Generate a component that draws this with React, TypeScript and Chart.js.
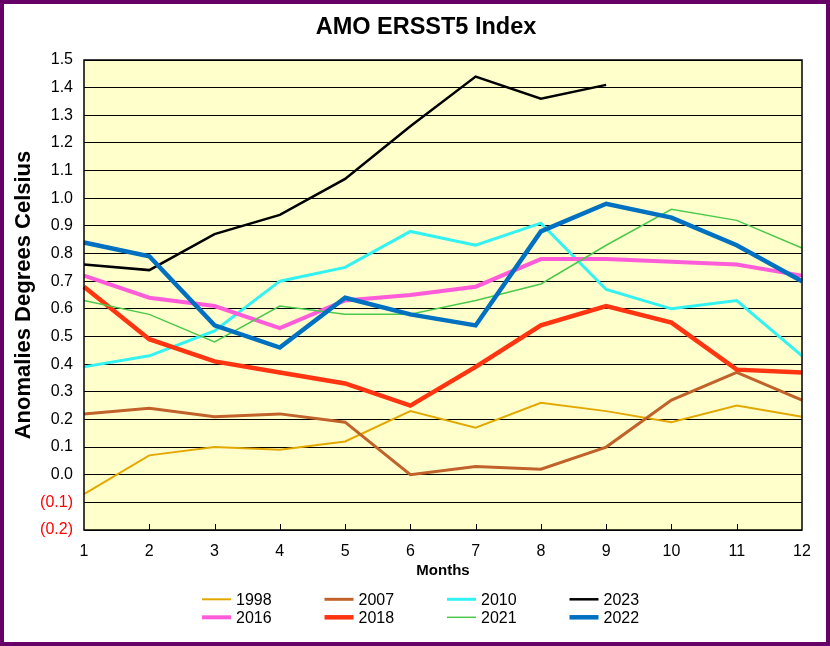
import React, { useEffect, useRef } from "react";
import { Chart, registerables } from "chart.js";

Chart.register(...registerables);

const months = ["1", "2", "3", "4", "5", "6", "7", "8", "9", "10", "11", "12"];

const seriesLabels = ["1998", "2007", "2010", "2023", "2016", "2018", "2021", "2022"];

const y1998 = [-0.07, 0.07, 0.1, 0.09, 0.12, 0.23, 0.17, 0.26, 0.23, 0.19, 0.25, 0.21];
const y2007 = [0.22, 0.24, 0.21, 0.22, 0.19, 0.0, 0.03, 0.02, 0.1, 0.27, 0.37, 0.27];
const y2010 = [0.39, 0.43, 0.52, 0.7, 0.75, 0.88, 0.83, 0.91, 0.67, 0.6, 0.63, 0.43];
const y2023 = [0.76, 0.74, 0.87, 0.94, 1.07, 1.26, 1.44, 1.36, 1.41];
const y2016 = [0.72, 0.64, 0.61, 0.53, 0.63, 0.65, 0.68, 0.78, 0.78, 0.77, 0.76, 0.72];
const y2018 = [0.68, 0.49, 0.41, 0.37, 0.33, 0.25, 0.39, 0.54, 0.61, 0.55, 0.38, 0.37];
const y2021 = [0.63, 0.58, 0.48, 0.61, 0.58, 0.58, 0.63, 0.69, 0.83, 0.96, 0.92, 0.82];
const y2022 = [0.84, 0.79, 0.54, 0.46, 0.64, 0.58, 0.54, 0.88, 0.98, 0.93, 0.83, 0.7];

const seriesValues = [y1998, y2007, y2010, y2023, y2016, y2018, y2021, y2022];
const seriesColors = ["#E3A800", "#C0622A", "#33F2F2", "#000000", "#FF5CD9", "#FF3410", "#4CC94C", "#0070C0"];
const seriesWidths = [2, 3, 3, 2.5, 4, 4.5, 1.5, 4.5];

const yMin = -0.2;
const yMax = 1.5;
const yStep = 0.1;

const FONT = "'Liberation Sans', Arial, Helvetica, sans-serif";

const plotBg = {
  id: "plotBg",
  beforeDraw(chart: any) {
    const { ctx, chartArea } = chart;
    ctx.save();
    ctx.fillStyle = "#FFFFCC";
    ctx.fillRect(chartArea.left, chartArea.top, chartArea.right - chartArea.left, chartArea.bottom - chartArea.top);
    ctx.restore();
  },
  beforeDatasetsDraw(chart: any) {
    const { ctx, chartArea } = chart;
    const xs = chart.scales.x;
    ctx.save();
    ctx.strokeStyle = "#000";
    ctx.lineWidth = 1;
    ctx.beginPath();
    for (let i = 1; i < months.length - 1; i++) {
      const px = Math.round(xs.getPixelForTick(i)) + 0.5;
      ctx.moveTo(px, chartArea.bottom);
      ctx.lineTo(px, chartArea.bottom - 6);
    }
    ctx.stroke();
    ctx.restore();
  },
  afterDatasetsDraw(chart: any) {
    const { ctx, chartArea } = chart;
    ctx.save();
    ctx.strokeStyle = "#000";
    ctx.lineWidth = 1.5;
    ctx.strokeRect(chartArea.left, chartArea.top, chartArea.right - chartArea.left, chartArea.bottom - chartArea.top);
    ctx.restore();
  },
};

const gridLegend = {
  id: "gridLegend",
  afterDraw(chart: any) {
    const { ctx, chartArea } = chart;
    const colW = 122.5;
    const rowH = 18;
    const startX = chart.width / 2 - 213;
    const startY = chartArea.bottom + 69.3;
    ctx.save();
    ctx.font = `16px ${FONT}`;
    ctx.textBaseline = "middle";
    ctx.textAlign = "left";
    chart.data.datasets.forEach((ds: any, i: number) => {
      const col = i % 4;
      const row = Math.floor(i / 4);
      const x = startX + col * colW;
      const y = startY + row * rowH;
      ctx.strokeStyle = ds.borderColor;
      ctx.lineWidth = ds.borderWidth;
      ctx.beginPath();
      ctx.moveTo(x, y);
      ctx.lineTo(x + 29, y);
      ctx.stroke();
      ctx.fillStyle = "#000";
      ctx.fillText(ds.label, x + 34, y + 1);
    });
    ctx.restore();
  },
};

export default function App() {
  const ref = useRef<HTMLCanvasElement>(null);

  useEffect(() => {
    const canvas = ref.current;
    if (!canvas) return;
    const chart = new Chart(canvas, {
      type: "line",
      data: {
        labels: months,
        datasets: seriesLabels.map((label, i) => ({
          label,
          data: seriesValues[i],
          borderColor: seriesColors[i],
          backgroundColor: seriesColors[i],
          borderWidth: seriesWidths[i],
          pointRadius: 0,
          pointHoverRadius: 0,
          tension: 0,
          fill: false,
          order: -i,
        })),
      },
      options: {
        animation: false,
        responsive: true,
        maintainAspectRatio: false,
        layout: { padding: { left: 22, right: 0, top: 0, bottom: 0 } },
        plugins: {
          legend: { display: false },
          tooltip: { enabled: false },
          title: {
            display: true,
            text: "AMO ERSST5 Index",
            color: "#000",
            font: { family: FONT, size: 23.5, weight: "bold" },
            padding: { top: 9, bottom: 18.8 },
          },
        },
        scales: {
          x: {
            type: "category",
            grid: { display: false, drawTicks: false },
            border: { display: false },
            ticks: {
              color: "#000",
              font: { family: FONT, size: 16 },
              padding: 12,
              maxRotation: 0,
              autoSkip: false,
            },
            title: {
              display: true,
              text: "Months",
              color: "#000",
              font: { family: FONT, size: 15, weight: "bold" },
              padding: { top: 4, bottom: 62 },
            },
            afterFit(s: any) {
              s.height = 112;
              s.paddingLeft = 0;
              s.paddingRight = 0;
            },
          },
          y: {
            type: "linear",
            min: yMin,
            max: yMax,
            grid: { color: "#000", lineWidth: 1, drawTicks: false },
            border: { display: false },
            ticks: {
              stepSize: yStep,
              padding: 11,
              font: { family: FONT, size: 16 },
              color: (c: any) => (c.tick && c.tick.value < -1e-9 ? "#FF0000" : "#000"),
              callback: (v: any) => {
                const n = Number(v);
                if (Math.abs(n) < 1e-9) return "0.0";
                return n < 0 ? `(${Math.abs(n).toFixed(1)})` : n.toFixed(1);
              },
            },
            title: {
              display: true,
              text: "Anomalies Degrees Celsius",
              color: "#000",
              font: { family: FONT, size: 22, weight: "bold" },
              padding: { top: -15.5, bottom: 0 },
            },
            afterFit(s: any) {
              s.width = 58;
              s.paddingTop = 0;
              s.paddingBottom = 0;
            },
          },
          yRight: {
            type: "linear",
            position: "right",
            display: true,
            grid: { display: false, drawTicks: false },
            border: { display: false },
            ticks: { display: false },
            afterFit(s: any) {
              s.width = 24;
              s.paddingTop = 0;
              s.paddingBottom = 0;
            },
          },
        },
      } as any,
      plugins: [plotBg, gridLegend],
    });
    return () => chart.destroy();
  }, []);

  return (
    <div
      style={{
        position: "absolute",
        left: 0,
        top: 0,
        width: 830,
        height: 646,
        boxSizing: "border-box",
        border: "4px solid #660066",
        background: "#fff",
      }}
    >
      <div style={{ position: "relative", width: 822, height: 638 }}>
        <canvas ref={ref} />
      </div>
    </div>
  );
}
